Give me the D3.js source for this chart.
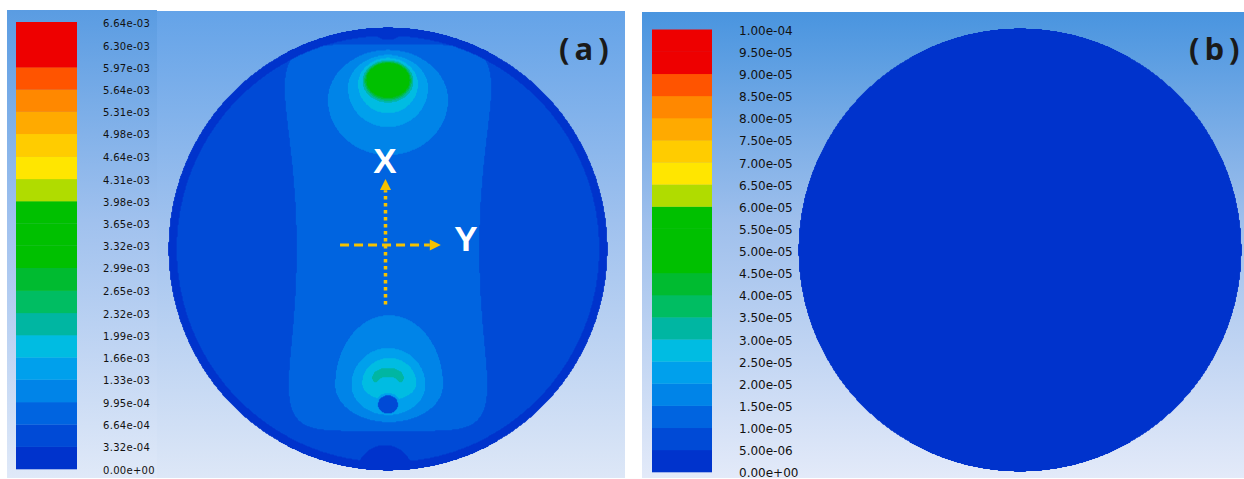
<!DOCTYPE html>
<html>
<head>
<meta charset="utf-8">
<script src="https://cdn.jsdelivr.net/npm/d3@7"></script>
<style>
html,body{margin:0;padding:0;background:#fff;}
svg{display:block;}
</style>
</head>
<body>
<svg id="chart" width="1244" height="479"></svg>
<script>
// ---------------- data ----------------
const levelsA = [0, 3.32e-4, 6.64e-4, 9.95e-4, 1.33e-3, 1.66e-3, 1.99e-3, 2.32e-3, 2.65e-3, 2.99e-3,
  3.32e-3, 3.65e-3, 3.98e-3, 4.31e-3, 4.64e-3, 4.98e-3, 5.31e-3, 5.64e-3, 5.97e-3, 6.30e-3, 6.64e-3];
const labelsA = ["0.00e+00","3.32e-04","6.64e-04","9.95e-04","1.33e-03","1.66e-03","1.99e-03","2.32e-03",
  "2.65e-03","2.99e-03","3.32e-03","3.65e-03","3.98e-03","4.31e-03","4.64e-03","4.98e-03","5.31e-03",
  "5.64e-03","5.97e-03","6.30e-03","6.64e-03"];
const levelsB = [0, 5e-6, 1e-5, 1.5e-5, 2e-5, 2.5e-5, 3e-5, 3.5e-5, 4e-5, 4.5e-5, 5e-5,
  5.5e-5, 6e-5, 6.5e-5, 7e-5, 7.5e-5, 8e-5, 8.5e-5, 9e-5, 9.5e-5, 1e-4];
const labelsB = ["0.00e+00","5.00e-06","1.00e-05","1.50e-05","2.00e-05","2.50e-05","3.00e-05","3.50e-05",
  "4.00e-05","4.50e-05","5.00e-05","5.50e-05","6.00e-05","6.50e-05","7.00e-05","7.50e-05","8.00e-05",
  "8.50e-05","9.00e-05","9.50e-05","1.00e-04"];
const bandColors = ["#0033cc","#004ad6","#0064e0","#0084e8","#00a0ec","#00bce2","#00b6a2","#00bd62",
  "#00bb30","#00c000","#00c000","#00c000","#b0dc00","#ffe600","#ffcc00","#ffaa00","#ff8800","#ff5400",
  "#ee0000","#ee0000"];

// field (a): values, positions on the unit disc
const ringValueA = 0.17e-3;
const ringWidthA = 0.04;
const sideValueA = 0.50e-3;
const waistValueA = 0.83e-3;
const hourglassA = [0.415, 0.14, 0.05, 0.87];   // waist half-width, flare, centre, half-height
// hot spot level sets: [u, v, rU, rUp, rDown, value]
const topSpotA = [
  [0.000, 0.671, 0.273, 0.225, 0.248, 1.16e-3],
  [0.000, 0.725, 0.182, 0.149, 0.176, 1.50e-3],
  [0.000, 0.743, 0.136, 0.117, 0.131, 1.83e-3],
  [0.000, 0.757, 0.116, 0.093, 0.097, 2.16e-3],
  [0.000, 0.759, 0.108, 0.086, 0.090, 2.50e-3],
  [0.000, 0.760, 0.103, 0.081, 0.085, 2.82e-3],
  [0.000, 0.761, 0.098, 0.077, 0.079, 3.20e-3]
];
const bottomSpotA = [
  [0.005, -0.613, 0.245, 0.315, 0.167, 1.16e-3],
  [0.002, -0.613, 0.168, 0.167, 0.135, 1.50e-3],
  [0.006, -0.604, 0.123, 0.113, 0.077, 1.83e-3],
  [0.000, -0.580, 0.072, 0.045, 0.036, 2.16e-3]
];
// low spots: [u, v, rU, rV, value]
const sinksA = [
  [0.000, 1.014, 0.082, 0.072, 0.17e-3],
  [-0.014, -1.009, 0.127, 0.126, 0.17e-3],
  [0.000, -0.612, 0.055, 0.036, 1.83e-3],
  [0.000, -0.703, 0.059, 0.054, 1.50e-3],
  [0.000, -0.700, 0.045, 0.041, 0.40e-3]
];
const valueB = 0;

// ---------------- drawing ----------------
const svg = d3.select("#chart");
const defs = svg.append("defs");
function grad(id, stops) {
  const g = defs.append("linearGradient").attr("id", id)
    .attr("gradientUnits", "userSpaceOnUse").attr("x1", 0).attr("x2", 0).attr("y1", 10).attr("y2", 478);
  stops.forEach(([o, c]) => g.append("stop").attr("offset", o).attr("stop-color", c));
}
grad("bgA", [[0, "#64a3e8"], [0.45, "#9fc1ee"], [1, "#dde7f7"]]);
grad("bgAL", [[0, "#5a9ce2"], [0.45, "#a0c1ee"], [1, "#e0e9f8"]]);
grad("bgB", [[0, "#4894df"], [0.45, "#9ebfec"], [1, "#e3eaf9"]]);

svg.append("rect").attr("x", 7).attr("y", 10).attr("width", 150).attr("height", 468).attr("fill", "url(#bgAL)");
svg.append("rect").attr("x", 157).attr("y", 11).attr("width", 468).attr("height", 467).attr("fill", "url(#bgA)");
svg.append("rect").attr("x", 642).attr("y", 12).attr("width", 602).attr("height", 466).attr("fill", "url(#bgB)");

function drawField(field, levels, xS, yS, nx, ny) {
  const gu = d3.scaleLinear().domain([0, nx]).range([-1.02, 1.02]);
  const gv = d3.scaleLinear().domain([0, ny]).range([1.02, -1.02]);
  const vals = new Float64Array(nx * ny);
  for (let j = 0; j < ny; j++) {
    const v = gv(j + 0.5);
    for (let i = 0; i < nx; i++) vals[j * nx + i] = field(gu(i + 0.5), v);
  }
  const thr = levels.slice(0, levels.length - 1);
  const contours = d3.contours().size([nx, ny]).thresholds(thr)(vals);
  const path = d3.geoPath(d3.geoTransform({
    point(x, y) { this.stream.point(xS(gu(x)), yS(gv(y))); }
  }));
  svg.append("g").selectAll("path").data(contours).join("path")
    .attr("d", path)
    .attr("fill", (d, i) => bandColors[i]);
}

function fieldA(u, v) {
  const r = Math.hypot(u, v);
  if (r > 1) return -1;
  if (r > 1 - ringWidthA) return ringValueA;
  const [w0, w2, vc, vh] = hourglassA;
  const hw = w0 + w2 * v * v;
  let val = (Math.pow(Math.abs(u) / hw, 6) + Math.pow(Math.abs(v - vc) / vh, 6) < 1) ? waistValueA : sideValueA;
  for (const [cu, cv, ru, rup, rdn, value] of topSpotA.concat(bottomSpotA)) {
    const du = (u - cu) / ru, dv = (v - cv) / (v > cv ? rup : rdn);
    if (du * du + dv * dv <= 1) val = Math.max(val, value);
  }
  for (const [cu, cv, ru, rv, value] of sinksA) {
    const du = (u - cu) / ru, dv = (v - cv) / rv;
    if (du * du + dv * dv <= 1) val = Math.min(val, value);
  }
  return val;
}
function fieldB(u, v) {
  return Math.hypot(u, v) > 1 ? -1 : valueB;
}

const xA = d3.scaleLinear().domain([-1, 1]).range([168, 608]);
const yA = d3.scaleLinear().domain([-1, 1]).range([471, 27]);
const xB = d3.scaleLinear().domain([-1, 1]).range([798, 1242]);
const yB = d3.scaleLinear().domain([-1, 1]).range([472, 28]);

drawField(fieldA, levelsA, xA, yA, 448, 452);
drawField(fieldB, levelsB, xB, yB, 452, 452);

// legends
function legend(levels, labels, x0, x1, yTop, yBot, pad, fontSize) {
  const y = d3.scaleLinear().domain([levels[0], levels[levels.length - 1]]).range([yBot, yTop]);
  const g = svg.append("g");
  g.selectAll("rect").data(levels.slice(0, -1)).join("rect")
    .attr("x", x0).attr("width", x1 - x0)
    .attr("y", (d, i) => y(levels[i + 1]))
    .attr("height", (d, i) => y(levels[i]) - y(levels[i + 1]) + 0.3)
    .attr("fill", (d, i) => bandColors[i]);
  const ax = svg.append("g").attr("transform", `translate(${x1},1)`)
    .call(d3.axisRight(y).tickValues(levels).tickFormat((d, i) => labels[i]).tickSize(0).tickPadding(pad));
  ax.select(".domain").remove();
  ax.attr("font-family", "'DejaVu Sans', sans-serif").attr("font-size", fontSize);
  ax.selectAll("text").attr("fill", "#111");
  return ax;
}
legend(levelsA, labelsA, 16, 77, 22, 469, 26, 10).selectAll("text").attr("letter-spacing", "0.3px");
legend(levelsB, labelsB, 652, 712, 29.5, 472, 27, 12);

// panel labels
svg.append("text").attr("x", 559).attr("y", 60).text("(a)")
  .attr("font-family", "'Open Sans', sans-serif").attr("font-weight", 700).attr("font-size", 31)
  .attr("letter-spacing", "5px").attr("fill", "#1a1a1a");
svg.append("text").attr("x", 1189).attr("y", 60).text("(b)")
  .attr("font-family", "'Open Sans', sans-serif").attr("font-weight", 700).attr("font-size", 31)
  .attr("letter-spacing", "5px").attr("fill", "#1a1a1a");

// direction arrows (positions on the unit disc of panel a)
const arrowColor = "#f5c200";
const axisXLine = [[0, -0.25], [0, 0.265]];
const axisYLine = [[-0.218, 0.018], [0.19, 0.018]];
svg.append("line")
  .attr("x1", xA(axisXLine[0][0]) - 2.5).attr("y1", yA(axisXLine[0][1]))
  .attr("x2", xA(axisXLine[1][0]) - 2.5).attr("y2", yA(axisXLine[1][1]))
  .attr("stroke", arrowColor).attr("stroke-width", 3.5).attr("stroke-dasharray", "3.5,3.5");
svg.append("path")
  .attr("d", `M${xA(0) - 2.5},${yA(0.315)} l-5.5,11 h11 z`).attr("fill", arrowColor);
svg.append("line")
  .attr("x1", xA(axisYLine[0][0])).attr("y1", yA(axisYLine[0][1]))
  .attr("x2", xA(axisYLine[1][0])).attr("y2", yA(axisYLine[1][1]))
  .attr("stroke", arrowColor).attr("stroke-width", 3).attr("stroke-dasharray", "9,5");
svg.append("path")
  .attr("d", `M${xA(0.24)},${yA(0.018)} l-11,-5.5 v11 z`).attr("fill", arrowColor);
svg.append("text").attr("x", xA(0) - 3).attr("y", 173).attr("text-anchor", "middle").text("X")
  .attr("font-family", "'Liberation Sans', Arial, sans-serif").attr("font-weight", 700)
  .attr("font-size", 35).attr("fill", "#ffffff");
svg.append("text").attr("x", 466).attr("y", 251).attr("text-anchor", "middle").text("Y")
  .attr("font-family", "'Liberation Sans', Arial, sans-serif").attr("font-weight", 700)
  .attr("font-size", 35).attr("fill", "#ffffff");
</script>
</body>
</html>
